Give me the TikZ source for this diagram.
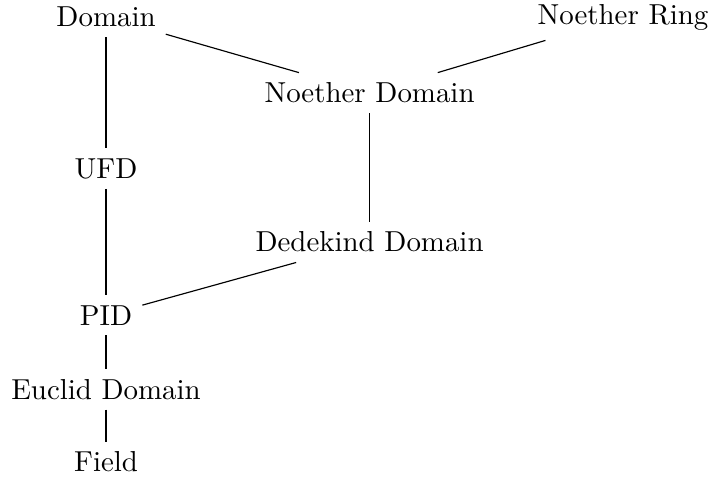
\documentclass[tikz,border=0pt]{standalone}
\begin{document}
\begin{tikzpicture}[x=1pt,y=1pt,lbl/.style={anchor=base,inner sep=3.33pt}]
\useasboundingbox (0,0) rectangle (246.4,-165.7);
\node[lbl] (dom) at (36.7,-9.24) {Domain};
\node[lbl] (nr) at (215.6,-8.4) {Noether Ring};
\node[lbl] (nd) at (127.9,-35.6) {Noether Domain};
\node[lbl] (ufd) at (36.7,-61.6) {UFD};
\node[lbl] (dd) at (127.9,-87.2) {Dedekind Domain};
\node[lbl] (pid) at (36.7,-112.5) {PID};
\node[lbl] (ed) at (36.7,-138.1) {Euclid Domain};
\node[lbl] (fd) at (36.7,-163.3) {Field};
\draw (dom) -- (ufd);
\draw (ufd) -- (pid);
\draw (pid) -- (ed);
\draw (ed) -- (fd);
\draw (dom) -- (nd);
\draw (nr) -- (nd);
\draw (nd) -- (dd);
\draw (dd) -- (pid);
\end{tikzpicture}
\end{document}
